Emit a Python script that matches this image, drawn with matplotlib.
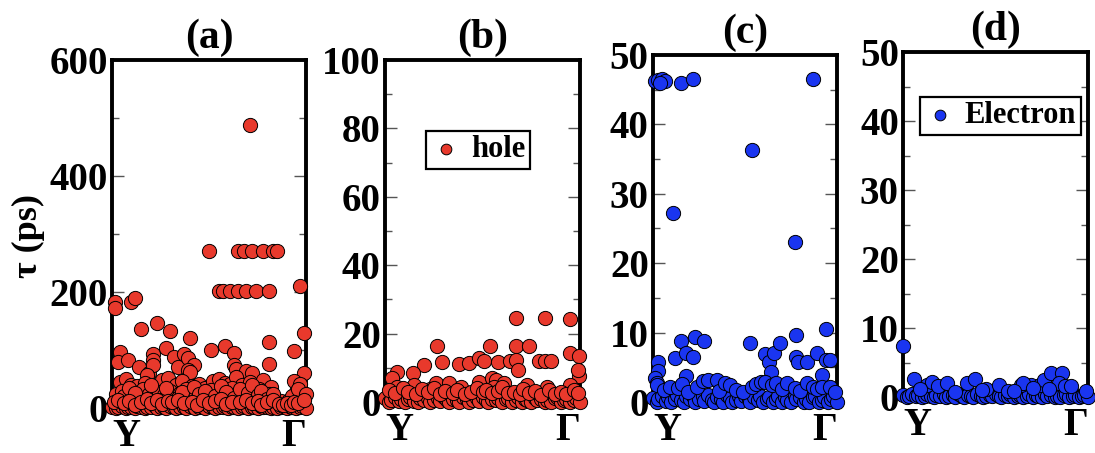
import matplotlib
matplotlib.use("Agg")
import matplotlib.pyplot as plt
from matplotlib.ticker import MultipleLocator, AutoMinorLocator

plt.rcParams['font.family'] = ['Liberation Serif', 'DejaVu Serif']
plt.rcParams['font.weight'] = 'bold'

red = '#e8392c'
blue = '#1a35f0'

# k-path position in % of Y -> Gamma, shared sampling for the lowest row
k_base = [0, 2, 3, 5, 7, 8, 10, 12, 13, 15, 17, 18, 20, 22, 23, 25, 27, 28, 30, 32, 33,
          35, 37, 38, 40, 42, 43, 45, 47, 48, 50, 52, 53, 55, 57, 58, 60, 62, 63, 65, 67,
          68, 70, 72, 73, 75, 77, 78, 80, 82, 83, 85, 87, 88, 90, 92, 93, 95, 97, 98, 100]

# ---- (a) hole, large scale
a_k = [71, 50, 65, 68, 72, 78, 83, 85, 55, 57, 61, 65, 69, 74, 81, 97, 1.5, 1.5, 10, 12,
       15, 23, 30, 40, 99, 81,
       4, 3, 8, 14, 19, 21, 21, 21, 28, 32, 34, 37, 39, 42, 39, 51, 58, 63, 63, 64, 69, 72,
       81, 94, 99, 18, 40,
       4, 7, 10, 13, 17, 22, 26, 29, 33, 36, 41, 45, 48, 52, 55, 58, 61, 64, 67, 71, 74, 78,
       82, 94, 97,
       2, 5, 8, 11, 14, 16, 19, 21, 24, 27, 30, 32, 35, 38, 40, 43, 46, 49, 51, 54, 57, 60,
       62, 65, 68, 70, 73, 76, 79, 81, 84, 87, 91, 95, 98,
       6, 9, 12, 20, 25, 28, 34, 36, 42, 45, 48, 53, 56, 59, 63, 66, 70, 72, 75, 77, 80, 83,
       93, 96, 100,
       1, 3, 6, 9, 12, 15, 18, 20, 23, 26, 29, 31, 34, 37, 41, 44, 47, 50, 53, 56, 59, 62,
       66, 69, 72, 75, 77, 80, 83, 86, 88, 90, 92, 94, 96, 99]
a_tau = [488, 271, 271, 271, 271, 271, 271, 271, 202, 202, 202, 202, 202, 202, 202, 211,
         183, 172, 182, 189, 136, 146, 132, 121, 130, 114,
         97, 80, 83, 71, 60, 94, 83, 74, 103, 88, 71, 94, 86, 74, 66, 100, 107, 95, 74, 68,
         63, 60, 76, 99, 60, 57, 62,
         45, 50, 40, 38, 44, 36, 48, 52, 40, 46, 38, 42, 35, 47, 50, 44, 41, 53, 39, 45, 37,
         48, 36, 47, 42,
         25, 30, 20, 28, 18, 32, 24, 15, 27, 22, 30, 19, 26, 33, 21, 28, 17, 25, 31, 20, 27,
         23, 34, 18, 29, 22, 26, 32, 19, 24, 16, 12, 14, 28, 22,
         20, 35, 26, 40, 14, 34, 18, 28, 36, 24, 30, 20, 38, 27, 18, 32, 26, 40, 22, 30, 16,
         24, 20, 33, 25,
         10, 14, 8, 12, 6, 11, 15, 9, 13, 7, 12, 10, 14, 8, 11, 6, 13, 9, 12, 15, 7, 11, 10,
         14, 8, 12, 6, 10, 13, 7, 5, 8, 6, 11, 9, 13]
a_base = [2, 0, 1, 3, 0, 2, 1, 0, 3, 1, 0, 2, 1, 3, 0, 1, 2, 0, 3, 1, 0, 2, 1, 0, 3, 2, 0,
          1, 2, 0, 3, 1, 0, 2, 1, 3, 0, 1, 2, 0, 1, 3, 0, 2, 1, 0, 3, 1, 2, 0, 1, 0, 2, 3, 0,
          1, 2, 0, 1, 3, 0]

# ---- (b) hole, zoomed
b_k = [67, 82, 95, 26.5, 54, 67, 74, 95, 99.6,
       29, 38, 43, 48, 51, 58, 64, 67, 68, 79, 82, 85, 20, 14.5, 6, 3.4, 99.6,
       48, 55, 57, 61, 56, 26, 33, 39, 73, 83, 95, 99, 6, 15, 23,
       2, 5, 9, 12, 16, 19, 22, 25, 28, 31, 35, 37, 41, 44, 47, 50, 52, 55, 58, 60, 63, 66,
       69, 71, 74, 77, 80, 84, 87, 90, 93, 97, 99]
b_tau = [24.5, 24.5, 24.2, 16.4, 16.4, 16.4, 16.4, 14.2, 13.4,
         11.8, 11.1, 11.5, 12.8, 12.1, 11.8, 12.1, 12.3, 9.4, 12.1, 12.1, 12.1, 10.8, 8.4,
         8.9, 6.9, 7.6,
         5.9, 6.9, 6.4, 5.6, 4.5, 5.5, 5.5, 4.5, 5.0, 4.5, 5.0, 9.4, 4.5, 5.0, 3.7,
         3.5, 2.5, 4, 3, 2.2, 3.8, 2.8, 4.2, 2.4, 3.2, 2.6, 3.6, 2.2, 3, 4, 2.8, 3.4, 2.5,
         3.2, 4.4, 2.6, 3, 2.2, 3.8, 2.5, 3.2, 2, 3.6, 2.4, 2.8, 2.2, 3.4, 2.6]
b_base = [1.2, 0, 0.6, 1.4, 0.3, 1.0, 0, 0.8, 1.5, 0.4, 0, 1.1, 0.6, 1.3, 0, 0.7, 1.2, 0.2,
          1.4, 0.5, 0, 1.0, 0.6, 0, 1.5, 0.9, 0, 0.5, 1.2, 0.3, 1.4, 0.6, 0, 1.0, 0.5, 1.3,
          0, 0.8, 1.1, 0, 0.6, 1.4, 0, 1.0, 0.5, 0, 1.3, 0.7, 1.0, 0, 0.6, 0, 1.1, 1.4, 0,
          0.5, 1.0, 0, 0.7, 1.2, 0]

# ---- (c) electron, zoomed
c_k = [1, 3, 4.7, 6.5, 3.8, 15, 22, 87, 54, 11, 77,
       3, 12, 15, 18, 22, 23, 28, 18, 53, 61, 63, 66, 69, 64, 78, 78, 79, 84, 89, 94, 94,
       96, 92, 3, 1, 2,
       2, 6, 9, 13.6, 16, 19, 23.7, 27, 30, 34.6, 36, 39, 42, 45, 49, 53.6, 56, 59, 61,
       64.5, 67, 70, 73, 77, 80, 84, 87, 89, 92, 96, 99]
c_tau = [46.3, 46.4, 46.5, 46.2, 46.0, 46.0, 46.5, 46.5, 36.3, 27.3, 23.0,
         5.8, 6.3, 8.8, 7.0, 6.5, 9.3, 8.8, 3.8, 8.5, 6.9, 5.8, 7.1, 8.5, 4.3, 9.7, 6.5,
         5.8, 5.8, 7.0, 10.5, 6.0, 6.0, 3.9, 4.4, 3.5, 2.8,
         2.5, 1.8, 2.2, 2.0, 2.6, 1.5, 2.2, 3.0, 3.2, 3.2, 1.6, 2.7, 2.5, 1.8, 1.4, 2.2,
         2.6, 2.9, 2.9, 2.5, 2.7, 1.9, 2.7, 2.0, 1.6, 2.7, 2.2, 1.9, 2.2, 2.2, 1.4]
c_base = [0.6, 0, 0.4, 0.9, 0.2, 0.7, 0, 0.5, 1.0, 0.3, 0, 0.8, 0.4, 0.9, 0, 0.5, 0.8, 0.1,
          1.0, 0.3, 0, 0.7, 0.4, 0, 1.0, 0.6, 0, 0.3, 0.8, 0.2, 0.9, 0.4, 0, 0.7, 0.3, 0.9,
          0, 0.5, 0.7, 0, 0.4, 0.9, 0, 0.7, 0.3, 0, 0.9, 0.5, 0.7, 0, 0.4, 0, 0.7, 0.9, 0,
          0.3, 0.7, 0, 0.5, 0.8, 0]

# ---- (d) electron, other
d_k = [0, 6, 13, 15.5, 19, 24, 34.5, 39, 45, 52, 64, 69, 74, 76, 80, 86, 84.5, 87.6,
       90.7, 65, 70.5, 99, 9, 42.5, 28, 57, 60, 79]
d_tau = [7.4, 2.6, 1.7, 2.2, 1.6, 2.1, 2.0, 2.6, 1.1, 1.7, 1.7, 1.7, 1.7, 2.5, 3.5, 3.5,
         2.1, 1.6, 1.6, 2.0, 1.35, 0.8, 1.1, 1.0, 0.7, 0.8, 0.9, 1.2]
d_base = [0.3, 0, 0.2, 0.4, 0.1, 0.3, 0, 0.2, 0.4, 0.1, 0, 0.3, 0.2, 0.4, 0, 0.2, 0.3, 0,
          0.4, 0.1, 0, 0.3, 0.2, 0, 0.4, 0.2, 0, 0.1, 0.3, 0.1, 0.4, 0.2, 0, 0.3, 0.1, 0.4,
          0, 0.2, 0.3, 0, 0.2, 0.4, 0, 0.3, 0.1, 0, 0.4, 0.2, 0.3, 0, 0.2, 0, 0.3, 0.4, 0,
          0.1, 0.3, 0, 0.2, 0.3, 0]

panels = [
    ('(a)', a_k, a_tau, a_base, red, 600, 200, None, [0.1023, 0.0993, 0.1772, 0.768]),
    ('(b)', b_k, b_tau, b_base, red, 100, 20, ('hole', 0.477, 0.737), [0.3516, 0.1126, 0.1781, 0.755]),
    ('(c)', c_k, c_tau, c_base, blue, 50, 10, None, [0.5963, 0.1126, 0.1680, 0.766]),
    ('(d)', d_k, d_tau, d_base, blue, 50, 10, ('Electron', 0.527, 0.816), [0.8247, 0.1236, 0.1689, 0.761]),
]

fig = plt.figure(figsize=(10.95, 4.53), dpi=100)

for title, ks, taus, base, col, ymax, step, leg, pos in panels:
    ax = fig.add_axes(pos)
    ax.scatter(k_base, base, s=105, c=col, edgecolors='black', linewidths=0.7,
               clip_on=False, zorder=3)
    sc = ax.scatter(ks, taus, s=105, c=col, edgecolors='black', linewidths=0.7,
                    clip_on=False, zorder=3)
    ax.set_xlim(0, 100)
    ax.set_ylim(0, ymax)
    ax.yaxis.set_major_locator(MultipleLocator(step))
    ax.yaxis.set_minor_locator(AutoMinorLocator(2))
    ax.set_xticks([0, 100])
    ax.set_xticklabels(['Y', 'Γ'])
    xl = ax.get_xticklabels()
    xl[0].set_horizontalalignment('left')
    xl[1].set_horizontalalignment('right')
    ax.tick_params(axis='y', which='major', direction='in', left=True, right=True,
                   length=8.5, width=1, color='#555555', labelsize=28, pad=3)
    ax.tick_params(axis='y', which='minor', direction='in', left=True, right=True,
                   length=5, width=1, color='#555555')
    ax.tick_params(axis='x', length=0, labelsize=28, pad=7)
    for sp in ax.spines.values():
        sp.set_linewidth(2.8)
    ax.set_title(title, fontsize=30, fontweight='bold', pad=9)
    if leg is not None:
        sc.set_label(leg[0])
        lg = ax.legend(loc='center', bbox_to_anchor=(leg[1], leg[2]), fontsize=22,
                       frameon=True, fancybox=False, edgecolor='black', framealpha=1,
                       handletextpad=0.3, borderpad=0.15, handlelength=1.0,
                       markerscale=0.75, borderaxespad=0)
        lg.get_frame().set_linewidth(1.6)

fig.text(0.026, 0.48, 'τ (ps)', rotation=90, fontsize=26, fontweight='bold',
         ha='center', va='center')

fig.savefig('out.png', dpi=100)
